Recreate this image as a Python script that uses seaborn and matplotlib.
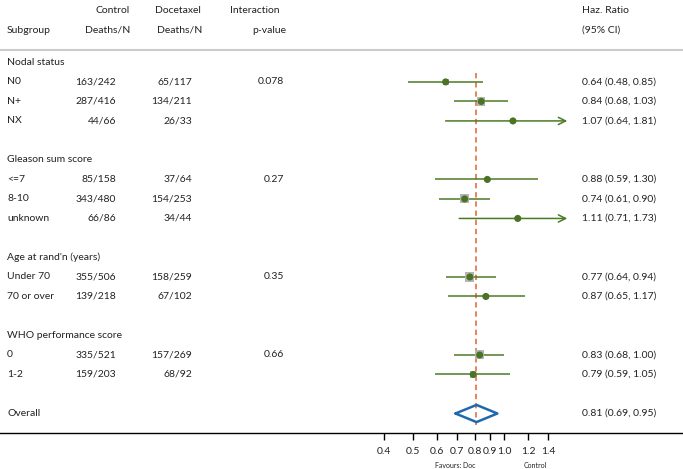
import numpy as np
import pandas as pd
import matplotlib
matplotlib.use("Agg")
import matplotlib.pyplot as plt
import seaborn as sns

# subgroup data
groups = ["Nodal status", "Gleason sum score", "Age at rand'n (years)", "WHO performance score"]
group_sizes = [3, 3, 2, 2]
p_interaction = ["0.078", "0.27", "0.35", "0.66"]
labels = ["N0", "N+", "NX", "<=7", "8-10", "unknown", "Under 70", "70 or over", "0", "1-2"]
control = ["163/242", "287/416", "44/66", "85/158", "343/480", "66/86", "355/506", "139/218", "335/521", "159/203"]
docetaxel = ["65/117", "134/211", "26/33", "37/64", "154/253", "34/44", "158/259", "67/102", "157/269", "68/92"]
hr = [0.64, 0.84, 1.07, 0.88, 0.74, 1.11, 0.77, 0.87, 0.83, 0.79]
lo = [0.48, 0.68, 0.64, 0.59, 0.61, 0.71, 0.64, 0.65, 0.68, 0.59]
hi = [0.85, 1.03, 1.81, 1.30, 0.90, 1.73, 0.94, 1.17, 1.00, 1.05]
overall = [0.81, 0.69, 0.95]
xticks = [0.4, 0.5, 0.6, 0.7, 0.8, 0.9, 1.0, 1.2, 1.4]
xmax_clip = 1.62

green = "#4b7a26"
dark = "#222222"

sns.set_theme(style="white")
plt.rcParams["font.family"] = ["Lato", "DejaVu Sans"]

# row layout
rows = []
header_rows = []
r = 0
k = 0
for g, n in zip(groups, group_sizes):
    header_rows.append(r)
    r += 1
    for i in range(n):
        rows.append(r)
        r += 1
    r += 1
overall_row = r

deaths = [int(c.split("/")[0]) + int(d.split("/")[0]) for c, d in zip(control, docetaxel)]
df = pd.DataFrame({"row": rows, "hr": hr, "lo": lo, "hi": hi, "deaths": deaths})
df["box"] = (6.6 * np.sqrt(df["deaths"] / max(deaths))) ** 2

fig = plt.figure(figsize=(6.83, 4.69), dpi=100)
ax = fig.add_axes([0, 36 / 469, 1, 433 / 469])
ax.set_xscale("log")
ax.set_xlim(0.0213, 3.92)
ax.set_ylim(19.0, -3.2)

tr = ax.get_yaxis_transform()
fs = 7.5

# headers
ax.text(95 / 683, -2.67, "Control", transform=tr, fontsize=fs, color=dark, va="center")
ax.text(155 / 683, -2.67, "Docetaxel", transform=tr, fontsize=fs, color=dark, va="center")
ax.text(230 / 683, -2.67, "Interaction", transform=tr, fontsize=fs, color=dark, va="center")
ax.text(582 / 683, -2.67, "Haz. Ratio", transform=tr, fontsize=fs, color=dark, va="center")
ax.text(7 / 683, -1.64, "Subgroup", transform=tr, fontsize=fs, color=dark, va="center")
ax.text(85 / 683, -1.64, "Deaths/N", transform=tr, fontsize=fs, color=dark, va="center")
ax.text(157 / 683, -1.64, "Deaths/N", transform=tr, fontsize=fs, color=dark, va="center")
ax.text(252 / 683, -1.64, "p-value", transform=tr, fontsize=fs, color=dark, va="center")
ax.text(582 / 683, -1.64, "(95% CI)", transform=tr, fontsize=fs, color=dark, va="center")
ax.plot([0, 1], [-0.62, -0.62], transform=tr, color="#cccccc", lw=1.5, clip_on=False)

for hrw, g, p in zip(header_rows, groups, p_interaction):
    ax.text(7 / 683, hrw, g, transform=tr, fontsize=fs, color=dark, va="center")
    ax.text(284 / 683, hrw + 1, p, transform=tr, fontsize=fs, color=dark, va="center", ha="right")

for i, y in enumerate(rows):
    ax.text(7 / 683, y, labels[i], transform=tr, fontsize=fs, color=dark, va="center")
    ax.text(116 / 683, y, control[i], transform=tr, fontsize=fs, color=dark, va="center", ha="right")
    ax.text(192 / 683, y, docetaxel[i], transform=tr, fontsize=fs, color=dark, va="center", ha="right")
    ax.text(582 / 683, y, f"{hr[i]:.2f} ({lo[i]:.2f}, {hi[i]:.2f})", transform=tr,
            fontsize=fs, color=dark, va="center")
    if hi[i] > xmax_clip:
        ax.annotate("", xy=(xmax_clip, y), xytext=(lo[i], y),
                    arrowprops=dict(arrowstyle="->", color=green, lw=1.1, mutation_scale=13,
                                    shrinkA=0, shrinkB=0))
    else:
        ax.hlines(y, lo[i], hi[i], color=green, lw=1.1)

ax.text(7 / 683, overall_row, "Overall", transform=tr, fontsize=fs, color=dark, va="center")
ax.text(582 / 683, overall_row, f"{overall[0]:.2f} ({overall[1]:.2f}, {overall[2]:.2f})",
        transform=tr, fontsize=fs, color=dark, va="center")

# reference line at overall estimate
ax.vlines(overall[0], 0.56, 18.6, color="#e2622e", lw=1.1, linestyles=(0, (3.5, 2.5)), zorder=1)

# weight boxes and point estimates
ax.scatter(df["hr"], df["row"], s=df["box"], marker="s", color="#b5b5b5", zorder=2, linewidths=0)
sns.scatterplot(data=df, x="hr", y="row", ax=ax, color="#4a7323", s=26, edgecolor="none",
                zorder=3, legend=False)

# overall diamond
dx = [overall[1], overall[0], overall[2], overall[0], overall[1]]
dy = [overall_row, overall_row - 0.44, overall_row, overall_row + 0.44, overall_row]
ax.plot(dx, dy, color="#1f68ad", lw=1.8, zorder=4)

for s in ["top", "left", "right"]:
    ax.spines[s].set_visible(False)
ax.spines["bottom"].set_color("black")
ax.spines["bottom"].set_linewidth(1.0)
ax.set_xticks(xticks)
ax.set_xticklabels([f"{t:.1f}" for t in xticks])
ax.xaxis.set_minor_locator(matplotlib.ticker.NullLocator())
ax.tick_params(axis="x", bottom=True, direction="out", length=5, width=1, color="black",
               labelsize=fs, labelcolor=dark, pad=5)
ax.set_yticks([])
ax.set_xlabel("")
ax.set_ylabel("")

ax.text(0.687, 20.67, "Favours: Doc", fontsize=5, color=dark, ha="center", va="center", clip_on=False)
ax.text(1.27, 20.67, "Control", fontsize=5, color=dark, ha="center", va="center", clip_on=False)

fig.savefig("out.png", dpi=100)
